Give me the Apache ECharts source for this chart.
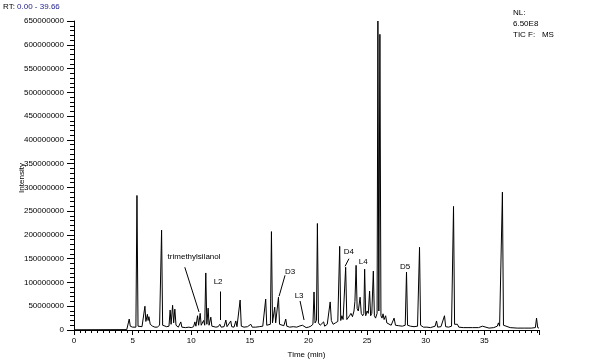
<!DOCTYPE html>
<html>
<head>
<meta charset="utf-8">
<script src="https://cdn.jsdelivr.net/npm/echarts@6/dist/echarts.min.js"></script>
<style>html,body{margin:0;padding:0;background:#fff;}#c{width:590px;height:364px;}</style>
</head>
<body>
<div id="c"></div>
<script>
// Retention time (min) and intensity (counts) of the TIC trace
const retentionTimes = [
 0, 4.5, 4.62, 4.71, 4.8, 5.0, 5.28, 5.37, 5.46, 5.6, 5.8, 5.95, 6.05, 6.13, 6.26, 6.32, 6.39, 6.5, 6.7, 6.9,
 7.1, 7.3, 7.38, 7.47, 7.56, 7.7, 7.9, 8.1, 8.2, 8.28, 8.41, 8.5, 8.6, 8.7, 8.9, 9.11, 9.2, 9.5, 9.8, 10.0,
 10.2, 10.31, 10.4, 10.54, 10.63, 10.76, 10.85, 10.95, 11.05, 11.15, 11.24, 11.33, 11.44, 11.52, 11.67, 11.76, 11.9, 12.1, 12.3, 12.44,
 12.55, 12.8, 12.95, 13.05, 13.2, 13.37, 13.45, 13.65, 13.8, 13.9, 14.05, 14.17, 14.27, 14.5, 14.8, 15.08, 15.2, 15.5, 15.8, 16.1,
 16.25, 16.35, 16.44, 16.6, 16.75, 16.84, 16.93, 17.02, 17.12, 17.2, 17.3, 17.44, 17.53, 17.7, 17.9, 18.06, 18.15, 18.4, 18.7, 19.0,
 19.2, 19.35, 19.48, 19.6, 19.8, 20.0, 20.2, 20.38, 20.47, 20.56, 20.68, 20.76, 20.85, 21.0, 21.15, 21.29, 21.38, 21.6, 21.75, 21.85,
 21.95, 22.1, 22.3, 22.5, 22.66, 22.75, 22.85, 22.95, 23.05, 23.17, 23.27, 23.4, 23.5, 23.62, 23.75, 23.88, 23.96, 24.06, 24.15, 24.25,
 24.4, 24.5, 24.62, 24.72, 24.79, 24.88, 25.0, 25.1, 25.21, 25.3, 25.4, 25.53, 25.62, 25.72, 25.85, 25.92, 26.0, 26.09, 26.18, 26.27,
 26.36, 26.45, 26.58, 26.68, 26.85, 27.05, 27.2, 27.3, 27.42, 27.7, 28.0, 28.25, 28.36, 28.45, 28.7, 29.0, 29.3, 29.47, 29.56, 29.8,
 30.1, 30.4, 30.8, 30.92, 31.02, 31.3, 31.6, 31.7, 31.95, 32.2, 32.37, 32.46, 32.6, 32.7, 32.82, 33.2, 33.6, 34.0, 34.5, 34.84,
 34.95, 35.4, 35.8, 36.1, 36.2, 36.3, 36.45, 36.54, 36.63, 36.8, 37.2, 37.8, 38.4, 39.0, 39.35, 39.45, 39.55, 39.66
];
const intensities = [
 0.5e6, 0.8e6, 5e6, 23e6, 8e6, 6e6, 6e6, 283e6, 8e6, 6e6, 7e6, 10e6, 50e6, 18e6, 33e6, 20e6, 28e6, 12e6, 8e6, 6e6,
 6e6, 10e6, 12e6, 210e6, 10e6, 6e6, 7e6, 8e6, 42e6, 12e6, 52e6, 15e6, 44e6, 10e6, 6e6, 17e6, 6e6, 5e6, 6e6, 5e6,
 7e6, 17e6, 8e6, 30e6, 10e6, 35e6, 10e6, 12e6, 20e6, 10e6, 120e6, 12e6, 46e6, 10e6, 27e6, 8e6, 7e6, 6e6, 7e6, 12e6,
 6e6, 7e6, 21e6, 7e6, 6e6, 19e6, 7e6, 6e6, 19e6, 7e6, 8e6, 63e6, 8e6, 6e6, 7e6, 12e6, 6e6, 6e6, 7e6, 8e6,
 10e6, 65e6, 10e6, 8e6, 12e6, 207e6, 15e6, 12e6, 48e6, 15e6, 14e6, 69e6, 12e6, 8e6, 9e6, 23e6, 8e6, 6e6, 7e6, 6e6,
 8e6, 6e6, 10e6, 7e6, 5e6, 6e6, 8e6, 12e6, 80e6, 15e6, 20e6, 224e6, 15e6, 10e6, 8e6, 17e6, 8e6, 12e6, 15e6, 59e6,
 20e6, 12e6, 15e6, 18e6, 176e6, 20e6, 30e6, 22e6, 25e6, 132e6, 22e6, 25e6, 30e6, 35e6, 28e6, 40e6, 60e6, 136e6, 45e6, 40e6,
 69e6, 35e6, 30e6, 35e6, 128e6, 30e6, 40e6, 35e6, 82e6, 30e6, 35e6, 124e6, 30e6, 25e6, 35e6, 650e6, 40e6, 622e6, 30e6, 25e6,
 34e6, 22e6, 30e6, 15e6, 12e6, 10e6, 12e6, 25e6, 10e6, 9e6, 8e6, 10e6, 122e6, 10e6, 8e6, 7e6, 8e6, 174e6, 10e6, 6e6,
 6e6, 5e6, 8e6, 19e6, 6e6, 7e6, 30e6, 7e6, 6e6, 8e6, 260e6, 12e6, 8e6, 12e6, 6e6, 5e6, 5e6, 5e6, 5e6, 8e6,
 5e6, 4e6, 5e6, 8e6, 15e6, 8e6, 12e6, 290e6, 10e6, 6e6, 5e6, 4e6, 4e6, 4e6, 5e6, 25e6, 5e6, 4e6
];
// Peak annotations: text, label position [rt, intensity]
const annotationTexts = ['trimethylsilanol', 'L2', 'D3', 'L3', 'D4', 'L4', 'D5'];
const annotationPositions = [[10.24, 155e6], [12.29, 102e6], [18.43, 123e6], [19.2, 71e6], [23.45, 165e6], [24.66, 144e6], [28.24, 134e6]];
// Pointer lines: [[rt1, int1], [rt2, int2]]
const pointerLines = [
 [[9.45, 132e6], [10.66, 38e6]],
 [[12.46, 81e6], [12.46, 21e6]],
 [[18.0, 115e6], [17.49, 71e6]],
 [[19.28, 61e6], [19.62, 21e6]],
 [[23.45, 150e6], [23.12, 134e6]]
];
const yTickStep = 50e6;
const yMax = 650e6;
const xMax = 39.66;

const traceData = retentionTimes.map((t, i) => [t, intensities[i]]);
const FONT = 'Liberation Sans, Arial, sans-serif';

const chart = echarts.init(document.getElementById('c'), null, {renderer: 'canvas'});
chart.setOption({
  animation: false,
  backgroundColor: '#fff',
  grid: {left: 74, right: 51, top: 21, bottom: 32},
  xAxis: {
    type: 'value', min: 0, max: xMax, interval: 5,
    name: 'Time (min)', nameLocation: 'middle', nameGap: 21,
    nameTextStyle: {color: '#000', fontSize: 8, fontFamily: FONT},
    axisLine: {lineStyle: {color: '#000', width: 1}},
    axisTick: {show: true, length: 5, lineStyle: {color: '#000'}},
    minorTick: {show: true, splitNumber: 10, length: 3, lineStyle: {color: '#000'}},
    axisLabel: {color: '#000', fontSize: 8, fontFamily: FONT, margin: 7, showMaxLabel: false,
      formatter: v => (Math.abs(v - Math.round(v)) < 1e-6 ? String(Math.round(v)) : '')},
    splitLine: {show: false}
  },
  yAxis: {
    type: 'value', min: 0, max: yMax, interval: yTickStep,
    axisLine: {show: true, lineStyle: {color: '#000', width: 1}},
    axisTick: {show: true, length: 7, lineStyle: {color: '#000'}},
    minorTick: {show: true, splitNumber: 5, length: 4, lineStyle: {color: '#000'}},
    axisLabel: {color: '#000', fontSize: 8, fontFamily: FONT, margin: 10,
      formatter: v => String(Math.round(v))},
    splitLine: {show: false}
  },
  series: [{
    type: 'line',
    data: traceData,
    showSymbol: false,
    symbol: 'none',
    lineStyle: {color: '#000', width: 1},
    silent: true,
    markLine: {
      silent: true, symbol: 'none', animation: false,
      label: {show: false},
      lineStyle: {color: '#000', width: 1, type: 'solid'},
      data: pointerLines.map(p => [{coord: p[0]}, {coord: p[1]}])
    },
    markPoint: {
      silent: true, symbol: 'circle', symbolSize: 0, animation: false,
      label: {show: true, position: 'inside', color: '#000', fontSize: 8, fontFamily: FONT},
      data: annotationTexts.map((txt, i) => ({coord: annotationPositions[i], value: txt, label: {formatter: txt}}))
    }
  }],
  graphic: [
    {type: 'text', left: 3, top: 3, style: {
      rich: {a: {fill: '#000', fontSize: 8, fontFamily: FONT}, b: {fill: '#1c1c8c', fontSize: 8, fontFamily: FONT}},
      text: '{a|RT: }{b|0.00 - 39.66}'}},
    {type: 'text', x: 513, y: 13, style: {text: 'NL:', fill: '#000', fontSize: 8, fontFamily: FONT, verticalAlign: 'middle'}},
    {type: 'text', x: 513, y: 24, style: {text: '6.50E8', fill: '#000', fontSize: 8, fontFamily: FONT, verticalAlign: 'middle'}},
    {type: 'text', x: 513, y: 35, style: {text: 'TIC F:   MS', fill: '#000', fontSize: 8, fontFamily: FONT, verticalAlign: 'middle'}},
    {type: 'text', x: 22, y: 178, rotation: Math.PI / 2, style: {text: 'Intensity', fill: '#000', fontSize: 8, fontFamily: FONT, align: 'center', verticalAlign: 'middle'}}
  ]
});
</script>
</body>
</html>
